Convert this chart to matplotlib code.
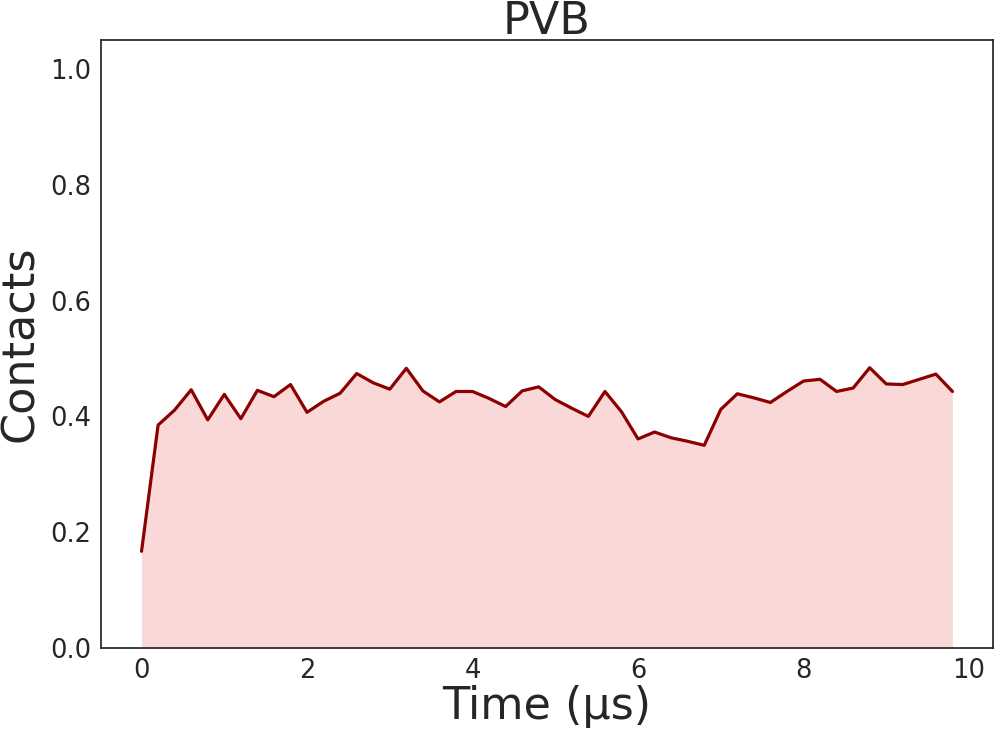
import matplotlib
matplotlib.use("Agg")
import matplotlib.pyplot as plt
import seaborn as sns
import numpy as np

# contact fraction sampled every 0.2 us
time_us = [round(0.2 * i, 1) for i in range(50)]
contacts = [0.167, 0.385, 0.411, 0.446, 0.394, 0.438, 0.396, 0.445, 0.434, 0.455,
            0.407, 0.426, 0.440, 0.474, 0.458, 0.447, 0.483, 0.444, 0.425, 0.443,
            0.443, 0.431, 0.417, 0.444, 0.451, 0.429, 0.414, 0.400, 0.443, 0.408,
            0.361, 0.373, 0.363, 0.357, 0.350, 0.412, 0.439, 0.432, 0.424, 0.443,
            0.461, 0.464, 0.443, 0.449, 0.484, 0.456, 0.455, 0.464, 0.473, 0.443]
x_ticks = [0, 2, 4, 6, 8, 10]
y_ticks = [0.0, 0.2, 0.4, 0.6, 0.8, 1.0]

sns.set_style("white")
plt.rcParams['font.family'] = ['DejaVu Sans']

fig = plt.figure(figsize=(9.96, 7.33), dpi=100)
ax = fig.add_axes([101 / 996, 1 - 648 / 733, 892 / 996, 608 / 733])

ax.fill_between(time_us, contacts, 0, color='lightcoral', alpha=0.3, linewidth=0)
ax.plot(time_us, contacts, color='darkred', lw=2.3)

ax.set_ylim(0, 1.05)
ax.set_xticks(x_ticks)
ax.set_yticks(y_ticks)
ax.tick_params(labelsize=18.5, colors='.15')
for s in ax.spines.values():
    s.set_color('.15')
    s.set_linewidth(1.25)

ax.set_title("PVB", fontsize=32, color='.15', pad=4)
ax.set_xlabel("Time (µs)", fontsize=32, color='.15', labelpad=1)
ax.set_ylabel("Contacts", fontsize=32, color='.15', labelpad=6)

plt.savefig("out.png", dpi=100)
